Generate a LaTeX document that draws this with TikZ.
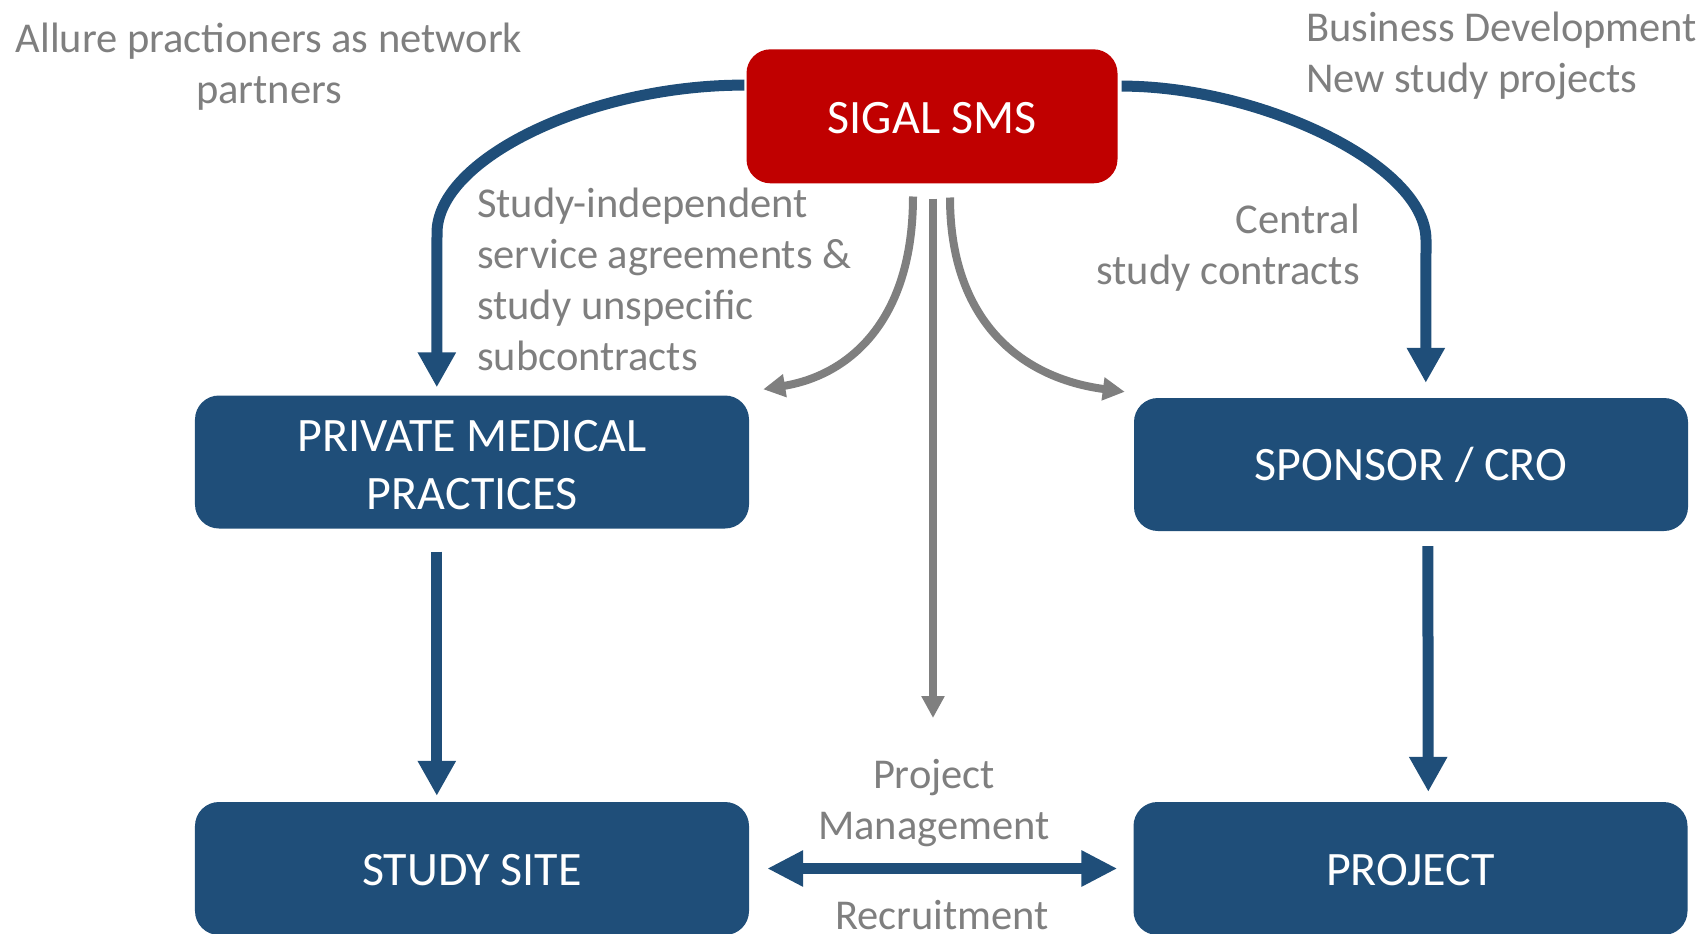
\documentclass[tikz,border=0pt]{standalone}
\usepackage{fontspec}
\setmainfont{Carlito}
\usetikzlibrary{arrows.meta,calc}
\definecolor{sblue}{HTML}{1F4E79}
\definecolor{sred}{HTML}{C00000}
\definecolor{sgray}{HTML}{7F7F7F}
\begin{document}
\begin{tikzpicture}[x=1bp,y=-1bp,
  box/.style={rectangle, rounded corners=24bp, fill=sblue, text=white, minimum width=554bp, minimum height=133bp, inner sep=0pt, align=center, font=\fontsize{48bp}{58bp}\selectfont, execute at begin node={\rule{0pt}{35bp}}},
  redbox/.style={box, fill=sred, minimum width=371bp, minimum height=134bp},
  lbl/.style={text=sgray, inner sep=0pt, font=\fontsize{42.5bp}{51bp}\selectfont},
  bluearrow/.style={draw=sblue, line width=11bp, -{Triangle[length=35bp,width=36bp]}},
  grayarrow/.style={draw=sgray, line width=8bp, -{Triangle[length=22bp,width=22bp]}},
  dblarrow/.style={draw=sblue, line width=11bp, {Triangle[length=36bp,width=34bp]}-{Triangle[length=36bp,width=34bp]}}
]
\useasboundingbox (0,0) rectangle (1701,933);
\clip (0,0) rectangle (1701,933);

\node[redbox] (sigal) at (932,116.3) {SIGAL SMS};
\node[box] (pmp) at (472,462) {\rule{0pt}{38bp}PRIVATE MEDICAL\\PRACTICES};
\node[box] (spon) at (1411,464.5) {SPONSOR / CRO};
\node[box] (site) at (472,868.5) {STUDY SITE};
\node[box] (proj) at (1410.5,868.5) {PROJECT};

\draw[bluearrow] ($(sigal.north west)+(-2,36)$) .. controls (590,85) and (437,159) .. (437,233) -- ($(pmp.north west)+(242,-8)$);
\draw[bluearrow] ($(sigal.north east)+(4,37)$) .. controls (1258,86) and (1426,164) .. (1426,240) -- ($(spon.north west)+(292,-15)$);
\draw[bluearrow] ($(pmp.south west)+(242,23)$) -- ($(site.north west)+(242,-6)$);
\draw[bluearrow] ($(spon.south west)+(294,15)$) -- ($(proj.north west)+(295,-10)$);
\draw[dblarrow] ($(site.east)+(18,0)$) -- ($(proj.west)+(-16,0)$);

\coordinate (pmtop) at (933,718);
\draw[grayarrow] ($(sigal.south)+(1,15)$) -- (pmtop);
\draw[grayarrow] ($(sigal.south)+(-19,13)$) .. controls (913,320) and (850,375) .. ($(pmp.north east)+(14,-6)$);
\draw[grayarrow] ($(sigal.south)+(18,14)$) .. controls (950,320) and (1020,378) .. ($(spon.north west)+(-9,-6)$);

\node[lbl, align=center] (allure) at (269,66.8) {Allure practioners as network\\partners};
\node[lbl, align=left, anchor=west] (bd) at (1306,55.8) {Business Development\\New study projects};
\node[lbl, align=left, anchor=west] (sia) at (477,279.4) {Study-independent\\service agreements \&\\study unspecific\\subcontracts};
\node[lbl, align=right, anchor=east] (csc) at (1360,248) {Central\\study contracts};
\node[lbl, align=center] (pmlab) at (934,803) {Project\\Management};
\node[lbl] (rec) at (942,915) {Recruitment};
\end{tikzpicture}
\end{document}
